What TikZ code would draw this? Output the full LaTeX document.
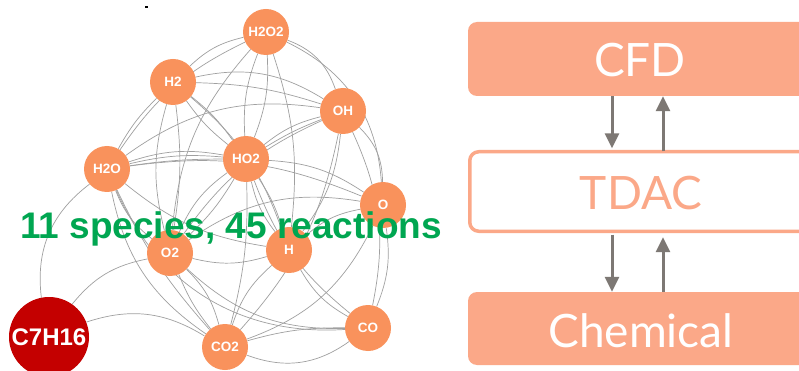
\documentclass[tikz,border=0pt]{standalone}
\usepackage{fontspec}
\setmainfont{Liberation Sans}
\newfontfamily\gillfont{Lato}
\usetikzlibrary{arrows.meta}
\pgfdeclarelayer{bg}
\pgfsetlayers{bg,main}
\definecolor{nodeorange}{RGB}{249,146,92}
\definecolor{darkred}{RGB}{196,0,0}
\definecolor{salmon}{RGB}{251,168,136}
\definecolor{arrowgray}{RGB}{125,120,116}
\definecolor{edgegray}{RGB}{160,160,160}
\definecolor{labelgreen}{RGB}{0,166,81}
\tikzset{
  species/.style={circle, fill=nodeorange, minimum size=46pt, inner sep=0pt,
    text=white, font=\fontsize{13.5}{14}\selectfont\bfseries},
  fuel/.style={circle, fill=darkred, minimum size=80pt, inner sep=0pt,
    text=white, font=\fontsize{24}{26}\selectfont\bfseries},
  rxn/.style={draw=edgegray, line width=0.7pt},
  filledbox/.style={fill=salmon, rounded corners=9pt},
  framebox/.style={draw=salmon, fill=white, line width=3.5pt, rounded corners=9pt},
  boxtext/.style={font=\gillfont\fontsize{46}{50}\selectfont, anchor=base, inner sep=0pt},
  flow/.style={draw=arrowgray, line width=3pt, -{Triangle[width=14pt,length=15pt]}},
}
\begin{document}
\begin{tikzpicture}[x=1pt,y=-1pt]
\begin{pgfonlayer}{bg}
\fill[white] (0,0) rectangle (799,371);
\end{pgfonlayer}
\clip (0,0) rectangle (799,371);
\fill[black] (144.5,6.3) rectangle (147.5,8);

% species nodes
\node[species] (H2O2) at (266,32) {H2O2};
\node[species] (H2) at (173,82) {H2};
\node[species] (OH) at (343,111) {OH};
\node[species] (HO2) at (246,159) {HO2};
\node[species] (H2O) at (107,169) {H2O};
\node[species] (O) at (383,205) {O};
\node[species] (O2) at (170,253) {O2};
\node[species] (H) at (289,250) {H};
\node[species] (CO) at (368,328) {CO};
\node[species] (CO2) at (225,347) {CO2};
\node[fuel] (C7H16) at (49,337) {C7H16};

\begin{pgfonlayer}{bg}
\path[rxn]
 (C7H16) edge[bend left=30] (H2O)
 (C7H16) edge[bend left=20] (O2)
 (C7H16) edge[bend left=25] (CO2)
 (H2) edge[bend left=15] (H2O2)
 (H2O2) edge[bend left=25] (OH)
 (H2O2) edge[bend right=12] (HO2)
 (H2O2) edge[bend left=12] (HO2)
 (H2O2) edge[bend right=15] (H2O)
 (H2O2) edge[bend left=12] (H)
 (H2O2) edge[bend right=18] (O2)
 (H2O2) edge[bend left=30] (O)
 (H2) edge[bend left=22] (OH)
 (H2) edge[bend left=8] (OH)
 (H2) edge[bend left=8] (HO2)
 (H2) edge[bend right=8] (HO2)
 (H2) edge[bend left=15] (H)
 (H2) edge[bend right=15] (O2)
 (H2) edge[bend left=8] (O2)
 (H2) edge[bend right=8] (H2O)
 (OH) edge[bend right=12] (HO2)
 (OH) edge[bend right=5] (HO2)
 (OH) edge[bend right=22] (H2O)
 (OH) edge[bend left=22] (O)
 (OH) edge[bend left=15] (H)
 (OH) edge[bend left=18] (CO)
 (OH) edge[bend left=15] (CO2)
 (OH) edge[bend right=15] (O2)
 (HO2) edge[bend right=4] (H2O)
 (HO2) edge[bend right=9] (H2O)
 (HO2) edge[bend right=14] (H2O)
 (HO2) edge[bend left=15] (O)
 (HO2) edge[bend left=8] (H)
 (HO2) edge[bend right=12] (H)
 (HO2) edge[bend right=15] (O2)
 (HO2) edge[bend left=8] (O2)
 (HO2) edge[bend right=15] (CO)
 (HO2) edge[bend left=8] (CO2)
 (H2O) edge[bend right=15] (O2)
 (H2O) edge[bend right=15] (H)
 (H2O) edge[bend left=15] (O)
 (H2O) edge[bend right=22] (CO2)
 (H2O) edge[bend right=8] (CO2)
 (H2O) edge[bend right=35] (CO)
 (O) edge[bend right=15] (H)
 (O) edge[bend right=22] (O2)
 (O) edge[bend left=15] (CO)
 (O) edge[bend left=22] (CO2)
 (H) edge[bend right=15] (CO2)
 (H) edge[bend right=15] (CO)
 (H) edge[bend left=15] (O2)
 (O2) edge[bend left=15] (CO2)
 (O2) edge[bend right=8] (CO2)
 (O2) edge[bend right=22] (CO)
 (CO2) edge[bend right=28] (CO)
 (CO2) edge[bend left=8] (CO);
\end{pgfonlayer}

\node[font=\fontsize{37}{40}\selectfont\bfseries, text=labelgreen, anchor=base west, inner sep=0pt] (caption) at (20,238) {11 species, 45 reactions};

% right-hand boxes
\path[filledbox] (468,22) rectangle (830,96);
\path[framebox] (469.75,151.75) rectangle (830,231.25);
\path[filledbox] (468,292) rectangle (830,365);
\node[inner sep=0pt, minimum width=1pt, minimum height=74pt] (cfd) at (640,59) {};
\node[inner sep=0pt, minimum width=1pt, minimum height=83pt] (tdac) at (640,191.5) {};
\node[inner sep=0pt, minimum width=1pt, minimum height=73pt] (chem) at (640,328.5) {};

\node[boxtext, text=white] (cfdtext) at (640,77) {CFD};
\node[boxtext, text=salmon] (tdactext) at (641,210) {TDAC};
\node[boxtext, text=white] (chemtext) at (641,347) {Chemical};

\coordinate (xa) at (612,0);
\coordinate (xb) at (663,0);
\draw[flow] (cfd.south -| xa) -- ([yshift=1.5pt]tdac.north -| xa);
\draw[flow] ([yshift=-1.5pt]tdac.north -| xb) -- (cfd.south -| xb);
\draw[flow] ([yshift=-1.5pt]tdac.south -| xa) -- (chem.north -| xa);
\draw[flow] (chem.north -| xb) -- ([yshift=-4pt]tdac.south -| xb);
\end{tikzpicture}
\end{document}
